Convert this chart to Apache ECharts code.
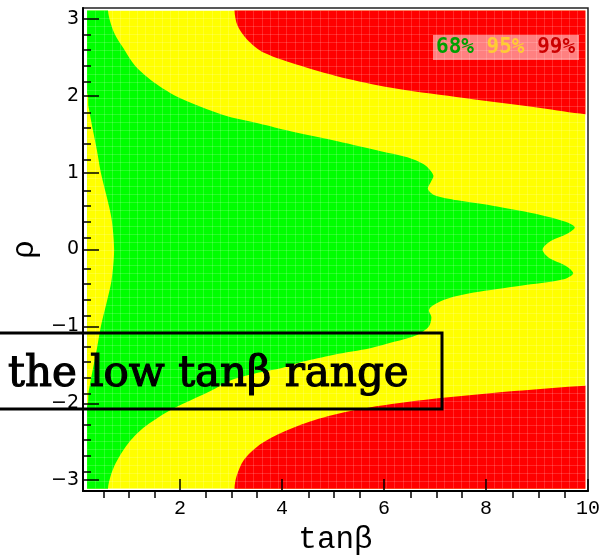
<!DOCTYPE html>
<html><head><meta charset="utf-8">
<script src="https://cdn.jsdelivr.net/npm/echarts@6/dist/echarts.min.js"></script>
<style>html,body{margin:0;padding:0;background:#fff}#c{width:603px;height:560px}</style>
</head><body><div id="c"></div>
<script>
// axis ranges and ticks
const xRange = [0.1, 10];
const yRange = [-Math.PI, Math.PI];
const fillX = [0.18, 9.95];
const fillY = [-3.11, 3.11];
const xMajorTicks = [2, 4, 6, 8, 10];
const xMinorTicks = [0.5, 1, 1.5, 2.5, 3, 3.5, 4.5, 5, 5.5, 6.5, 7, 7.5, 8.5, 9, 9.5];
const yMajorTicks = [-3, -2, -1, 0, 1, 2, 3];
const yMinorTicks = [-2.8, -2.6, -2.4, -2.2, -1.8, -1.6, -1.4, -1.2, -0.8, -0.6, -0.4, -0.2,
  0.2, 0.4, 0.6, 0.8, 1.2, 1.4, 1.6, 1.8, 2.2, 2.4, 2.6, 2.8];

// 68% / 95% boundary (right edge of green region), rho -> tanβ
const rhoGreenRight = [3.11, 2.82, 2.61, 2.39, 2.18, 1.97, 1.75, 1.64, 1.54, 1.41, 1.28, 1.20, 1.11, 1.05, 0.96, 0.88, 0.79, 0.71, 0.64, 0.56, 0.45, 0.36, 0.29, 0.21, 0.11, 0.00,
  -0.11, -0.21, -0.31, -0.39, -0.47, -0.56, -0.64, -0.73, -0.79, -0.88, -1.00, -1.11, -1.20, -1.28, -1.37, -1.46, -1.54, -1.60, -1.70, -1.84, -2.01, -2.14, -2.35, -2.56, -2.78, -2.95, -3.11];
const tanbGreenRight = [0.59, 0.71, 0.90, 1.12, 1.48, 2.00, 2.85, 3.55, 4.17, 5.09, 5.94, 6.46, 6.78, 6.88, 6.97, 6.92, 6.86, 6.98, 7.44, 8.22, 9.07, 9.56, 9.74, 9.60, 9.27, 9.11,
  9.24, 9.56, 9.71, 9.50, 8.68, 7.76, 7.24, 6.95, 6.88, 6.93, 6.88, 6.65, 6.20, 5.75, 5.00, 4.40, 4.00, 3.55, 3.00, 2.60, 2.05, 1.68, 1.23, 0.94, 0.74, 0.64, 0.59];

// 68% / 95% boundary at low tanβ (left yellow strip)
const rhoGreenLeft = [2.05, 1.85, 1.6, 1.3, 1.0, 0.7, 0.4, 0.0, -0.4, -0.7, -1.0, -1.3, -1.6, -1.85, -2.05];
const tanbGreenLeft = [0.15, 0.21, 0.28, 0.37, 0.45, 0.56, 0.66, 0.71, 0.66, 0.56, 0.45, 0.37, 0.28, 0.21, 0.15];

// 95% / 99% boundaries (red regions)
const rhoRedTop = [3.11, 2.91, 2.73, 2.56, 2.39, 2.22, 2.09, 1.97, 1.84, 1.76];
const tanbRedTop = [3.07, 3.13, 3.32, 3.65, 4.37, 5.28, 6.26, 7.57, 9.07, 9.95];
const rhoRedBottom = [-1.77, -1.84, -1.97, -2.09, -2.22, -2.39, -2.56, -2.74, -2.95, -3.11];
const tanbRedBottom = [9.95, 8.55, 6.59, 5.41, 4.63, 3.97, 3.52, 3.25, 3.11, 3.07];

const legendLabels = ['68%', '95%', '99%'];
const cellCount = 60;

const C_GREEN = '#00ff00', C_YELLOW = '#ffff00', C_RED = '#ff0000';

function renderRegions(params, api) {
  const pts = (ts, rs) => ts.map((t, i) => api.coord([t, rs[i]]));
  const tl = api.coord([fillX[0], fillY[1]]);
  const br = api.coord([fillX[1], fillY[0]]);
  const far = 3.8, lft = -1, rgt = 10.8;
  const greenPts = [api.coord([tanbGreenRight[0], far])]
    .concat(pts(tanbGreenRight, rhoGreenRight))
    .concat([api.coord([tanbGreenRight[tanbGreenRight.length - 1], -far]), api.coord([lft, -far]), api.coord([lft, far])]);
  const stripPts = [api.coord([lft, rhoGreenLeft[0]])]
    .concat(pts(tanbGreenLeft, rhoGreenLeft))
    .concat([api.coord([lft, rhoGreenLeft[rhoGreenLeft.length - 1]])]);
  const redTopPts = [api.coord([tanbRedTop[0], far])]
    .concat(pts(tanbRedTop, rhoRedTop))
    .concat([api.coord([rgt, rhoRedTop[rhoRedTop.length - 1] - 0.02]), api.coord([rgt, far])]);
  const redBotPts = [api.coord([rgt, rhoRedBottom[0] + 0.02])]
    .concat(pts(tanbRedBottom, rhoRedBottom))
    .concat([api.coord([tanbRedBottom[tanbRedBottom.length - 1], -far]), api.coord([rgt, -far])]);
  const children = [
    { type: 'rect', shape: { x: tl[0], y: tl[1], width: br[0] - tl[0], height: br[1] - tl[1] }, style: { fill: C_YELLOW } },
    { type: 'polygon', shape: { points: greenPts, smooth: 0.3 }, style: { fill: C_GREEN } },
    { type: 'polygon', shape: { points: stripPts, smooth: 0.3 }, style: { fill: C_YELLOW } },
    { type: 'polygon', shape: { points: redTopPts, smooth: 0.3 }, style: { fill: C_RED } },
    { type: 'polygon', shape: { points: redBotPts, smooth: 0.3 }, style: { fill: C_RED } }
  ];
  for (let k = 1; k < cellCount; k++) {
    const x = fillX[0] + k * (fillX[1] - fillX[0]) / cellCount;
    const y = fillY[0] + k * (fillY[1] - fillY[0]) / cellCount;
    const a = api.coord([x, fillY[0]]), b = api.coord([x, fillY[1]]);
    const c = api.coord([fillX[0], y]), d = api.coord([fillX[1], y]);
    children.push({ type: 'line', shape: { x1: Math.round(a[0]) + 0.5, y1: a[1], x2: Math.round(b[0]) + 0.5, y2: b[1] }, style: { stroke: 'rgba(255,255,255,0.16)', lineWidth: 1 } });
    children.push({ type: 'line', shape: { x1: c[0], y1: Math.round(c[1]) + 0.5, x2: d[0], y2: Math.round(d[1]) + 0.5 }, style: { stroke: 'rgba(255,255,255,0.16)', lineWidth: 1 } });
  }
  return {
    type: 'group',
    clipPath: { type: 'rect', shape: { x: tl[0], y: tl[1], width: br[0] - tl[0], height: br[1] - tl[1] } },
    children
  };
}

const minus = v => String(v).replace('-', '\u2212');
const gridRect = { left: 83, right: 13, top: 8, bottom: 62 };

const chart = echarts.init(document.getElementById('c'), null, { renderer: 'canvas' });
chart.setOption({
  animation: false,
  backgroundColor: '#fff',
  grid: [
    Object.assign({ show: true, borderColor: '#222', borderWidth: 1.5, backgroundColor: 'transparent', z: 4 }, gridRect),
    Object.assign({ show: false }, gridRect)
  ],
  xAxis: [
    {
      gridIndex: 0, type: 'value', min: xRange[0], max: xRange[1], z: 5,
      axisLine: { show: true, onZero: false, lineStyle: { color: '#000', width: 2 } },
      axisTick: { show: true, inside: true, length: 12, customValues: xMajorTicks, lineStyle: { color: '#000', width: 1.5 } },
      axisLabel: { show: true, customValues: xMajorTicks, margin: 8, fontFamily: 'Liberation Mono', fontSize: 20, color: '#000' },
      splitLine: { show: false },
      name: 'tanβ', nameLocation: 'middle', nameGap: 30,
      nameTextStyle: { fontFamily: 'Liberation Mono', fontSize: 31, color: '#000' }
    },
    {
      gridIndex: 1, type: 'value', min: xRange[0], max: xRange[1], z: 5,
      axisLine: { show: false, onZero: false },
      axisTick: { show: true, inside: true, length: 6, customValues: xMinorTicks, lineStyle: { color: '#000', width: 1.5 } },
      axisLabel: { show: false }, splitLine: { show: false }
    }
  ],
  yAxis: [
    {
      gridIndex: 0, type: 'value', min: yRange[0], max: yRange[1], z: 5,
      axisLine: { show: true, onZero: false, lineStyle: { color: '#000', width: 2 } },
      axisTick: { show: true, inside: true, length: 16, customValues: yMajorTicks, lineStyle: { color: '#000', width: 1.5 } },
      axisLabel: { show: true, customValues: yMajorTicks, margin: 4, fontFamily: 'DejaVu Sans', fontSize: 19, color: '#000', formatter: minus },
      splitLine: { show: false },
      name: 'ρ', nameLocation: 'middle', nameGap: 40, nameRotate: 90,
      nameTextStyle: { fontFamily: 'Liberation Mono', fontSize: 31, color: '#000' }
    },
    {
      gridIndex: 1, type: 'value', min: yRange[0], max: yRange[1], z: 5,
      axisLine: { show: false, onZero: false },
      axisTick: { show: true, inside: true, length: 8, customValues: yMinorTicks, lineStyle: { color: '#000', width: 1.5 } },
      axisLabel: { show: false }, splitLine: { show: false }
    }
  ],
  series: [{
    type: 'custom', xAxisIndex: 0, yAxisIndex: 0, z: 1, silent: true,
    data: [[xRange[0], yRange[0]]],
    renderItem: renderRegions
  }],
  graphic: [
    { type: 'rect', z: 100, shape: { x: 433, y: 35, width: 146, height: 25 }, style: { fill: 'rgba(255,255,255,0.5)' } },
    { type: 'text', z: 101, x: 436, y: 48, style: {
        text: '{g|' + legendLabels[0] + '} {y|' + legendLabels[1] + '} {r|' + legendLabels[2] + '}',
        fontFamily: 'DejaVu Sans Mono', fontWeight: 'bold', fontSize: 21, verticalAlign: 'middle',
        rich: {
          g: { fill: '#00a000', fontFamily: 'DejaVu Sans Mono', fontWeight: 'bold', fontSize: 21 },
          y: { fill: '#ffcc33', fontFamily: 'DejaVu Sans Mono', fontWeight: 'bold', fontSize: 21 },
          r: { fill: '#cc0000', fontFamily: 'DejaVu Sans Mono', fontWeight: 'bold', fontSize: 21 }
        }
      } },
    { type: 'rect', z: 100, shape: { x: -10, y: 333, width: 452, height: 76 }, style: { fill: 'none', stroke: '#000', lineWidth: 3 } },
    { type: 'text', z: 101, x: 8, y: 375, style: { text: 'the low tanβ range', fontFamily: 'DejaVu Serif', fontSize: 42, fill: '#000', stroke: '#000', lineWidth: 1.2, verticalAlign: 'middle' } }
  ]
});
</script></body></html>
